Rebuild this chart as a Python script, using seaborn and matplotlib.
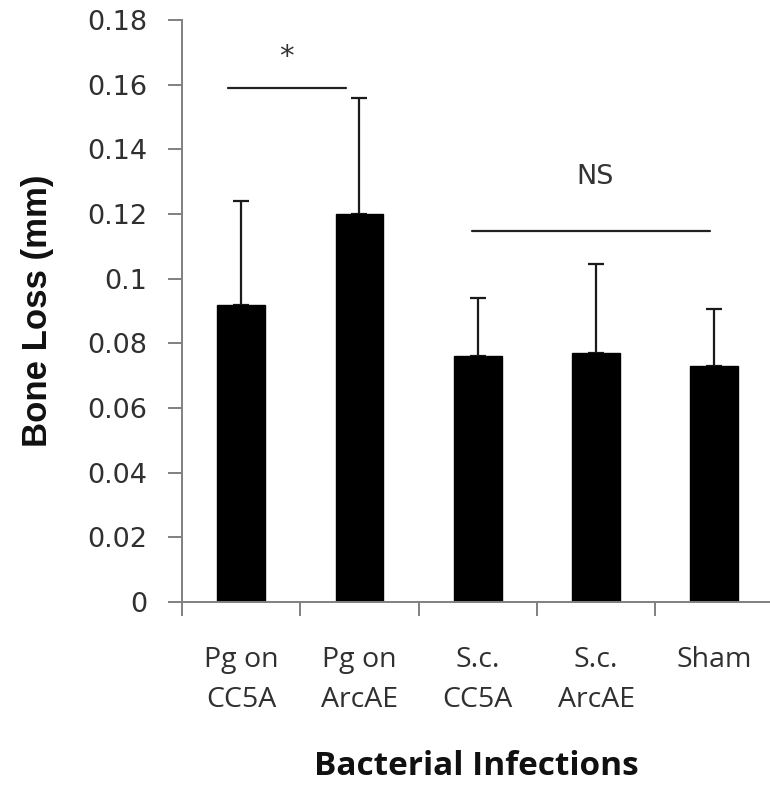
import numpy as np
import pandas as pd
import matplotlib
matplotlib.use('Agg')
import matplotlib.pyplot as plt
import seaborn as sns

# values
groups = ['Pg on\nCC5A', 'Pg on\nArcAE', 'S.c.\nCC5A', 'S.c.\nArcAE', 'Sham']
bone_loss = [0.092, 0.120, 0.076, 0.077, 0.073]
err_up = [0.032, 0.036, 0.018, 0.0275, 0.0175]
y_ticks = [0, 0.02, 0.04, 0.06, 0.08, 0.1, 0.12, 0.14, 0.16, 0.18]
y_tick_labels = ['0', '0.02', '0.04', '0.06', '0.08', '0.1', '0.12', '0.14', '0.16', '0.18']

df = pd.DataFrame({'group': groups, 'loss': bone_loss, 'err': err_up})

sns.set_style('white')
plt.rcParams['font.family'] = ['DejaVu Sans']

fig = plt.figure(figsize=(7.7, 7.87), dpi=100)
ax = fig.add_axes([0.2364, 0.2351, 0.7636, 0.7395])

sns.barplot(data=df, x='group', y='loss', color='black', width=0.405,
            saturation=1, errorbar=None, ax=ax, zorder=2)
for p in ax.patches:
    p.set_edgecolor('black')

xs = np.arange(len(groups))
ax.errorbar(xs, df['loss'], yerr=[np.zeros(len(groups)), df['err']],
            fmt='none', ecolor='#1a1a1a', elinewidth=1.6, capsize=6,
            capthick=1.6, zorder=1)

ax.set_xlim(-0.5, 4.47)
ax.set_ylim(0, 0.18)
ax.set_yticks(y_ticks)
ax.set_yticklabels(y_tick_labels)

ax.set_xticks(xs)
ax.set_xticklabels(groups, fontfamily='Open Sans', fontsize=20.5,
                   color='#303030', linespacing=1.55)
ax.set_xticks(np.arange(-0.5, 4.0, 1.0), minor=True)
ax.tick_params(axis='x', which='major', length=0, pad=32)
ax.tick_params(axis='x', which='minor', length=10, width=1.4,
               color='#808080', direction='out', bottom=True)
ax.tick_params(axis='y', length=10, width=1.4, color='#808080',
               direction='out', left=True, pad=15, labelsize=19.5,
               labelcolor='#303030')

for s in ['top', 'right']:
    ax.spines[s].set_visible(False)
for s in ['left', 'bottom']:
    ax.spines[s].set_color('#808080')
    ax.spines[s].set_linewidth(1.4)

ax.set_ylabel('Bone Loss (mm)', fontfamily='Liberation Sans',
              fontweight='bold', fontsize=25, labelpad=24, color='#111111')
ax.set_xlabel('Bacterial Infections', fontfamily='Open Sans',
              fontweight='bold', fontsize=24, labelpad=26, color='#111111')

# significance marks
ax.plot([-0.11, 0.89], [0.159, 0.159], color='#222222', lw=1.6,
        clip_on=False)
ax.text(0.38, 0.1685, '*', ha='center', va='center', fontsize=21,
        color='#333333')
ax.plot([1.95, 3.96], [0.1147, 0.1147], color='#222222', lw=1.6,
        clip_on=False)
ax.text(2.99, 0.1314, 'NS', ha='center', va='center', fontsize=19.5,
        color='#333333')

fig.savefig('out.png', dpi=100)
